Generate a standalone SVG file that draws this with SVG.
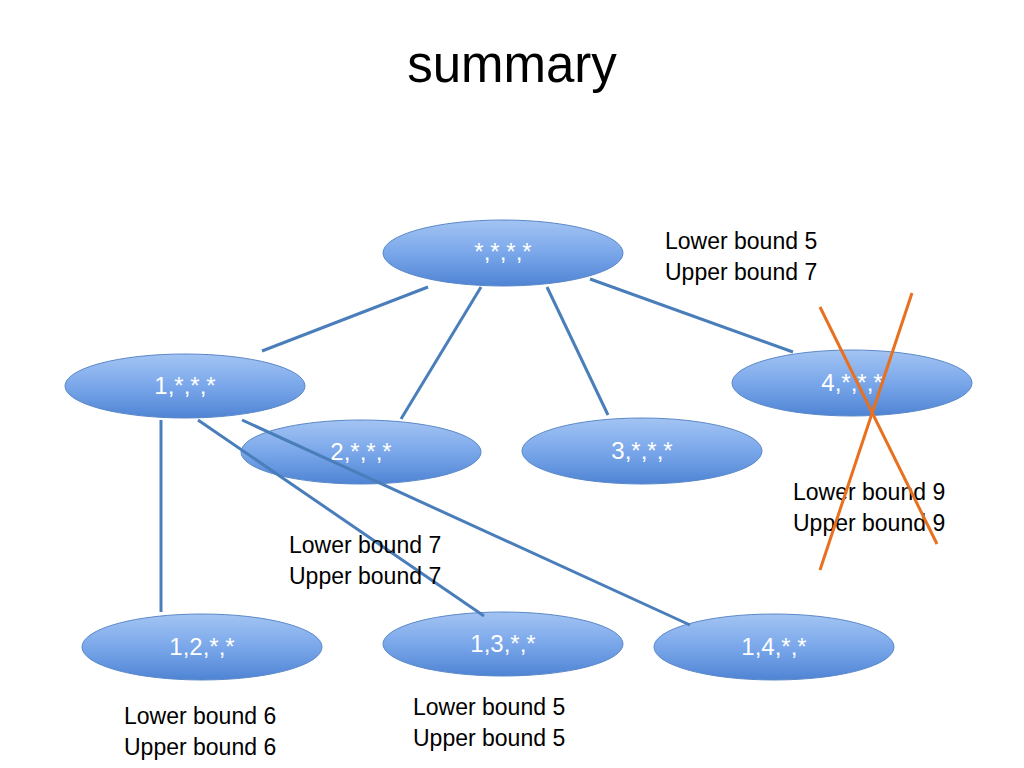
<svg xmlns="http://www.w3.org/2000/svg" width="1024" height="768" viewBox="0 0 1024 768">
<defs>
<linearGradient id="g" x1="0" y1="0" x2="0" y2="1">
<stop offset="0" stop-color="#a3c4f3"/>
<stop offset="0.5" stop-color="#7aa7ea"/>
<stop offset="1" stop-color="#4f84d4"/>
</linearGradient>
<style>
.n{fill:url(#g);stroke:#5a88c8;stroke-width:1}
.t{font-family:"Liberation Sans",Arial,sans-serif;font-size:24px;fill:#ffffff;text-anchor:middle}
.l{font-family:"Liberation Sans",Arial,sans-serif;font-size:23px;fill:#000000}
.c{stroke:#4a7ebb;stroke-width:3;fill:none}
.x{stroke:#e8701f;stroke-width:3;fill:none}
</style>
</defs>
<rect width="1024" height="768" fill="#ffffff"/>
<text x="512" y="82" font-family="Liberation Sans,Arial,sans-serif" font-size="51" text-anchor="middle" fill="#000">summary</text>
<g id="n0"><ellipse class="n" cx="503" cy="253" rx="120" ry="33"/><text class="t" x="503" y="260">*,*,*,*</text></g>
<g id="n1"><ellipse class="n" cx="185" cy="386" rx="120" ry="32"/><text class="t" x="185" y="394">1,*,*,*</text></g>
<g id="n2"><ellipse class="n" cx="361" cy="452" rx="120" ry="32"/><text class="t" x="361" y="460">2,*,*,*</text></g>
<g id="n3"><ellipse class="n" cx="642" cy="451" rx="120" ry="33"/><text class="t" x="642" y="459">3,*,*,*</text></g>
<g id="n4"><ellipse class="n" cx="852" cy="383" rx="120" ry="33"/><text class="t" x="852" y="391">4,*,*,*</text></g>
<g id="n12"><ellipse class="n" cx="202" cy="647" rx="120" ry="33"/><text class="t" x="202" y="655">1,2,*,*</text></g>
<g id="n13"><ellipse class="n" cx="503" cy="644" rx="120" ry="32"/><text class="t" x="503" y="652">1,3,*,*</text></g>
<g id="n14"><ellipse class="n" cx="774" cy="647" rx="120" ry="33"/><text class="t" x="774" y="655">1,4,*,*</text></g>
<g id="connectors">
<line class="c" x1="428" y1="287" x2="262" y2="351"/>
<line class="c" x1="481" y1="287" x2="401" y2="419"/>
<line class="c" x1="547" y1="287" x2="608" y2="415"/>
<line class="c" x1="590" y1="279" x2="793" y2="352"/>
<line class="c" x1="161" y1="420" x2="161" y2="612"/>
<line class="c" x1="198" y1="420" x2="484" y2="616"/>
<line class="c" x1="242" y1="420" x2="690" y2="625"/>
</g>
<g id="labels">
<text class="l" x="665" y="249">Lower bound 5</text>
<text class="l" x="665" y="280">Upper bound 7</text>
<text class="l" x="793" y="500">Lower bound 9</text>
<text class="l" x="793" y="531">Upper bound 9</text>
<text class="l" x="289" y="553">Lower bound 7</text>
<text class="l" x="289" y="584">Upper bound 7</text>
<text class="l" x="124" y="724">Lower bound 6</text>
<text class="l" x="124" y="755">Upper bound 6</text>
<text class="l" x="413" y="715">Lower bound 5</text>
<text class="l" x="413" y="746">Upper bound 5</text>
</g>
<g id="cross">
<line class="x" x1="820" y1="307" x2="937" y2="544"/>
<line class="x" x1="912" y1="293" x2="820" y2="570"/>
</g>
</svg>
